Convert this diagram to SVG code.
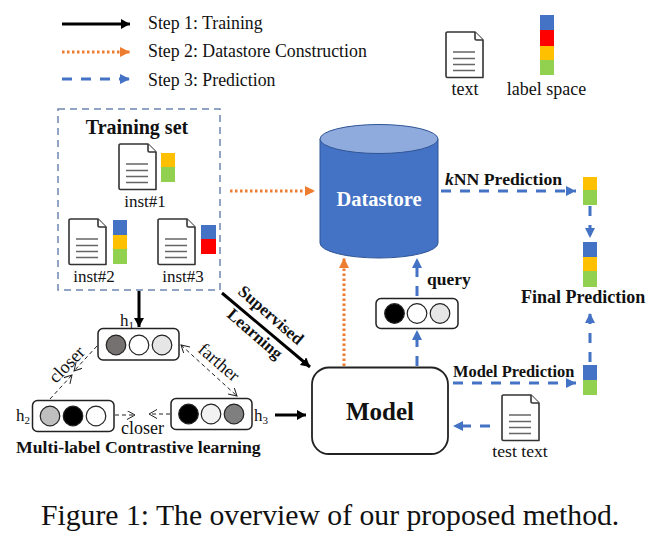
<svg xmlns="http://www.w3.org/2000/svg" width="652" height="545" viewBox="0 0 652 545">
<style>
text{font-family:"Liberation Serif","Times New Roman",serif;fill:#111}
.b{font-weight:bold}
.s{font-size:17.800px}
.l{font-size:18px}
.k{stroke:#000;stroke-width:3;fill:none}
.o{stroke:#ED7D31;stroke-width:3;stroke-dasharray:2.5 2.5;fill:none}
.p{stroke:#4472C4;stroke-width:3;stroke-dasharray:10 9;fill:none}
.t{stroke:#222;stroke-width:1;stroke-dasharray:4 3;fill:none}
.vec{fill:#fff;stroke:#222;stroke-width:1.5}
.c{stroke:#222;stroke-width:1.2}
.doc{fill:#fff;stroke:#333;stroke-width:1.6;stroke-linejoin:round}
.ln{stroke:#666;stroke-width:1.3}
.B{fill:#4472C4}.R{fill:#FF0000}.Y{fill:#FFC000}.G{fill:#92D050}
</style>
<defs>
<marker id="ak" markerWidth="11" markerHeight="11" refX="9" refY="5" orient="auto" markerUnits="userSpaceOnUse"><path d="M0 0L9 5L0 10z" fill="#000"/></marker>
<marker id="ao" markerWidth="12" markerHeight="11" refX="10" refY="5" orient="auto" markerUnits="userSpaceOnUse"><path d="M0 0L10 5L0 10z" fill="#ED7D31"/></marker>
<marker id="ap" markerWidth="12" markerHeight="11" refX="10" refY="5" orient="auto" markerUnits="userSpaceOnUse"><path d="M0 0L10 5L0 10z" fill="#4472C4"/></marker>
<marker id="at" markerWidth="10" markerHeight="10" refX="8" refY="4.500" orient="auto-start-reverse" markerUnits="userSpaceOnUse"><path d="M0 0L8 4.500L0 9" fill="none" stroke="#222" stroke-width="1"/></marker>
<g id="d"><path class="doc" d="M1.500 0H29L37 8V45.500H1.500a1.500 1.500 0 0 1-1.500-1.500V1.500a1.500 1.500 0 0 1 1.500-1.500z"/><path class="doc" d="M29 0V6.500a1.500 1.500 0 0 0 1.500 1.500H37" fill="none"/><path class="ln" d="M7 20H29M7 26.500H29M7 32.500H29M7 38.500H29"/></g>
</defs>
<rect width="652" height="545" fill="#fff"/>

<g id="connectors">
<path class="k" d="M62 24H130" marker-end="url(#ak)"/>
<path class="o" d="M62 52H130" marker-end="url(#ao)"/>
<path class="p" d="M62 79H130" marker-end="url(#ap)"/>
<path class="o" d="M230 191H315" marker-end="url(#ao)"/>
<path class="p" d="M441 191H576" marker-end="url(#ap)"/>
<path class="p" d="M590 206V238" marker-end="url(#ap)"/>
<path class="p" d="M590 362V313" marker-end="url(#ap)"/>
<path class="p" d="M453 383H576" marker-end="url(#ap)"/>
<path class="p" d="M490 426H453" marker-end="url(#ap)"/>
<path class="p" stroke-dasharray="10 6" d="M417 366V330" marker-end="url(#ap)"/>
<path class="p" d="M417 296V258" marker-end="url(#ap)"/>
<path class="o" d="M344 366V258" marker-end="url(#ao)"/>
<path class="k" d="M139 291V327" marker-end="url(#ak)"/>
<path class="k" d="M222 293L310 367" marker-end="url(#ak)"/>
<path class="k" d="M275 415H306" marker-end="url(#ak)"/>
<path class="t" d="M97 346L74 371" marker-end="url(#at)"/>
<path class="t" d="M50 399L72 375" marker-end="url(#at)"/>
<path class="t" d="M181 345L237 396" marker-start="url(#at)" marker-end="url(#at)"/>
<path class="t" d="M115 415H135" marker-end="url(#at)"/>
<path class="t" d="M170 414H149" marker-end="url(#at)"/>
</g>

<g id="legend">
<text class="s" x="148" y="29">Step 1: Training</text>
<text class="s" x="148" y="57">Step 2: Datastore Construction</text>
<text class="s" x="148" y="86">Step 3: Prediction</text>
<use href="#d" x="446" y="32"/>
<text class="l" x="465" y="95" text-anchor="middle">text</text>
<rect class="B" x="540" y="15" width="14" height="15"/><rect class="R" x="540" y="30" width="14" height="16"/><rect class="Y" x="540" y="46" width="14" height="14"/><rect class="G" x="540" y="60" width="14" height="15"/>
<text class="l" x="546.500" y="95" text-anchor="middle">label space</text>
</g>

<g id="training-set">
<rect x="58" y="109" width="162" height="181" fill="none" stroke="#6F87B0" stroke-width="1.500" stroke-dasharray="7 5"/>
<text class="b" x="137" y="134" font-size="20" text-anchor="middle">Training set</text>
<use href="#d" x="119" y="144"/>
<rect class="Y" x="161" y="153" width="14" height="14"/><rect class="G" x="161" y="167" width="14" height="15"/>
<text x="145" y="207" font-size="17" text-anchor="middle">inst#1</text>
<use href="#d" x="69" y="219"/>
<rect class="B" x="113" y="220" width="14" height="15"/><rect class="Y" x="113" y="235" width="14" height="14"/><rect class="G" x="113" y="249" width="14" height="15"/>
<text x="94" y="282" font-size="17" text-anchor="middle">inst#2</text>
<use href="#d" x="158" y="219"/>
<rect class="B" x="201" y="225" width="15" height="14"/><rect class="R" x="201" y="239" width="15" height="15"/>
<text x="183" y="282" font-size="17" text-anchor="middle">inst#3</text>
</g>

<g id="datastore">
<path d="M320 139V243A59 15 0 0 0 438 243V139z" fill="#4472C4" stroke="#2F5597"/>
<ellipse cx="379" cy="139" rx="59" ry="14.500" fill="#8FAADC" stroke="#2F5597"/>
<text class="b" x="379" y="206" font-size="20.500" text-anchor="middle" style="fill:#fff">Datastore</text>
</g>

<g id="model">
<rect x="312" y="367.500" width="136" height="86.500" rx="17" fill="#fff" stroke="#222" stroke-width="1.800"/>
<text class="b" x="380" y="420" font-size="25" text-anchor="middle">Model</text>
</g>

<g id="h1">
<rect class="vec" x="98" y="328.500" width="81" height="31.500" rx="5"/>
<circle class="c" cx="116" cy="345" r="9.800" fill="#767171"/><circle class="c" cx="139" cy="345" r="9.800" fill="#fff"/><circle class="c" cx="162" cy="345" r="9.800" fill="#E7E6E6"/>
<text x="120" y="326" font-size="17">h<tspan font-size="11" dy="3">1</tspan></text>
</g>
<g id="h2">
<rect class="vec" x="32.500" y="400.500" width="81.500" height="31" rx="5"/>
<circle class="c" cx="50" cy="416" r="9.800" fill="#BFBFBF"/><circle class="c" cx="73" cy="416" r="9.800" fill="#000"/><circle class="c" cx="96" cy="416" r="9.800" fill="#fff"/>
<text x="16" y="421" font-size="17">h<tspan font-size="11" dy="3">2</tspan></text>
</g>
<g id="h3">
<rect class="vec" x="171" y="398.500" width="81" height="31" rx="5"/>
<circle class="c" cx="188.500" cy="414" r="9.800" fill="#000"/><circle class="c" cx="211" cy="414" r="9.800" fill="#F2F2F2"/><circle class="c" cx="234" cy="414" r="9.800" fill="#7F7F7F"/>
<text x="254" y="421" font-size="17">h<tspan font-size="11" dy="3">3</tspan></text>
</g>
<g id="query">
<rect class="vec" x="376" y="298.500" width="82" height="30" rx="5"/>
<circle class="c" cx="394.500" cy="313.500" r="9.800" fill="#000"/><circle class="c" cx="417" cy="313.500" r="9.800" fill="#fff"/><circle class="c" cx="440" cy="313.500" r="9.800" fill="#E7E6E6"/>
<text class="b" x="427" y="285" font-size="17.500">query</text>
</g>

<g id="labels">
<text font-size="18" transform="translate(56 384) rotate(-46)">closer</text>
<text font-size="18" transform="translate(197 351) rotate(41)">farther</text>
<text font-size="18" x="121" y="434">closer</text>
<text class="b" x="16" y="453" font-size="17.700">Multi-label Contrastive learning</text>
<text class="b" transform="translate(237 293) rotate(41)" font-size="17">Supervised</text>
<text class="b" transform="translate(226 316) rotate(41)" font-size="17">Learning</text>
<text class="b" x="445" y="185" font-size="17.700"><tspan font-style="italic">k</tspan>NN Prediction</text>
<text class="b" x="521" y="303" font-size="18">Final Prediction</text>
<text class="b" x="453" y="377" font-size="16.400">Model Prediction</text>
</g>

<g id="predictions">
<rect class="Y" x="583" y="177" width="14" height="13"/><rect class="G" x="583" y="190" width="14" height="15"/>
<rect class="B" x="583" y="242" width="14" height="15"/><rect class="Y" x="583" y="257" width="14" height="14"/><rect class="G" x="583" y="271" width="14" height="16"/>
<rect class="B" x="583" y="365" width="14" height="15"/><rect class="G" x="583" y="380" width="14" height="15"/>
</g>

<g id="test-text">
<use href="#d" x="502" y="395"/>
<text x="520" y="457" font-size="17.700" text-anchor="middle">test text</text>
</g>

<text x="41" y="525" font-size="29.700">Figure 1: The overview of our proposed method.</text>
</svg>
